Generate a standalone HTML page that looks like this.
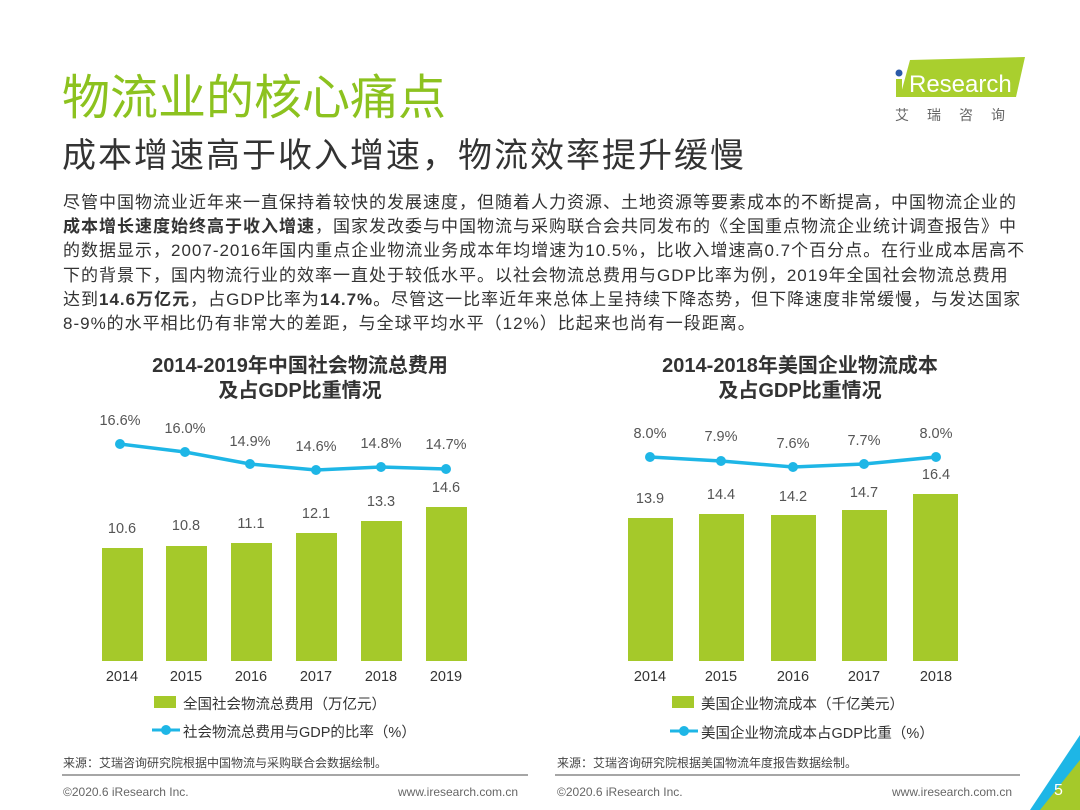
<!DOCTYPE html>
<html><head><meta charset="utf-8">
<style>
body{margin:0;width:1080px;height:810px;background:#fff;position:relative;overflow:hidden;font-family:"Liberation Sans","Noto Sans CJK SC",sans-serif;}
.a{position:absolute;white-space:nowrap}
.t{color:#8cc21f;font-size:48px;left:62px;top:58px}
.st{color:#333;font-size:34px;left:62px;top:128px;letter-spacing:2px}
.p{left:63px;top:191px;font-size:17px;line-height:24.2px;color:#333;white-space:nowrap;letter-spacing:1px}
.ct{font-size:20px;font-weight:bold;color:#333;text-align:center;line-height:25px}
.bar{position:absolute;background:#a5c92a}
.lbl{position:absolute;font-size:14.5px;color:#555;transform:translateX(-50%)}
.yr{position:absolute;font-size:14.5px;color:#333;transform:translateX(-50%);top:669px}
.small{font-size:12px;color:#444}
</style></head><body>
<div class="a t">物流业的核心痛点</div>
<div class="a st">成本增速高于收入增速，物流效率提升缓慢</div>
<svg class="a" style="left:888px;top:55px" width="140" height="70">
<polygon points="22,5 137,2 128,42 12,42" fill="#a9cf2e"/>
<circle cx="11" cy="18" r="3.5" fill="#2a5aa8"/>
<rect x="8" y="24" width="6" height="18" fill="#a9cf2e"/>
<text x="21" y="37" font-family="Liberation Sans" font-size="24" fill="#fff">Research</text>
<text x="7" y="65" font-family="Noto Sans CJK SC" font-size="14" fill="#666" letter-spacing="18">艾瑞咨询</text>
</svg>
<div class="a p">尽管中国物流业近年来一直保持着较快的发展速度，但随着人力资源、土地资源等要素成本的不断提高，中国物流企业的<br><b>成本增长速度始终高于收入增速</b>，国家发改委与中国物流与采购联合会共同发布的《全国重点物流企业统计调查报告》中<br>的数据显示，2007-2016年国内重点企业物流业务成本年均增速为10.5%，比收入增速高0.7个百分点。在行业成本居高不<br>下的背景下，国内物流行业的效率一直处于较低水平。以社会物流总费用与GDP比率为例，2019年全国社会物流总费用<br>达到<b>14.6万亿元</b>，占GDP比率为<b>14.7%</b>。尽管这一比率近年来总体上呈持续下降态势，但下降速度非常缓慢，与发达国家<br>8-9%的水平相比仍有非常大的差距，与全球平均水平（12%）比起来也尚有一段距离。</div>

<div class="a ct" style="left:60px;width:480px;top:354px">2014-2019年中国社会物流总费用<br>及占GDP比重情况</div>
<div class="a ct" style="left:560px;width:480px;top:354px">2014-2018年美国企业物流成本<br>及占GDP比重情况</div>

<div class="bar" style="left:102px;width:41px;top:548px;height:113px"></div>
<div class="bar" style="left:166px;width:41px;top:546px;height:115px"></div>
<div class="bar" style="left:231px;width:41px;top:543px;height:118px"></div>
<div class="bar" style="left:296px;width:41px;top:533px;height:128px"></div>
<div class="bar" style="left:361px;width:41px;top:521px;height:140px"></div>
<div class="bar" style="left:426px;width:41px;top:507px;height:154px"></div>
<div class="lbl" style="left:122px;top:521px">10.6</div>
<div class="lbl" style="left:186px;top:518px">10.8</div>
<div class="lbl" style="left:251px;top:516px">11.1</div>
<div class="lbl" style="left:316px;top:506px">12.1</div>
<div class="lbl" style="left:381px;top:494px">13.3</div>
<div class="lbl" style="left:446px;top:480px">14.6</div>
<div class="yr" style="left:122px">2014</div><div class="yr" style="left:186px">2015</div><div class="yr" style="left:251px">2016</div><div class="yr" style="left:316px">2017</div><div class="yr" style="left:381px">2018</div><div class="yr" style="left:446px">2019</div>

<div class="bar" style="left:628px;width:45px;top:518px;height:143px"></div>
<div class="bar" style="left:699px;width:45px;top:514px;height:147px"></div>
<div class="bar" style="left:771px;width:45px;top:515px;height:146px"></div>
<div class="bar" style="left:842px;width:45px;top:510px;height:151px"></div>
<div class="bar" style="left:913px;width:45px;top:494px;height:167px"></div>
<div class="lbl" style="left:650px;top:491px">13.9</div>
<div class="lbl" style="left:721px;top:487px">14.4</div>
<div class="lbl" style="left:793px;top:489px">14.2</div>
<div class="lbl" style="left:864px;top:485px">14.7</div>
<div class="lbl" style="left:936px;top:467px">16.4</div>
<div class="yr" style="left:650px">2014</div><div class="yr" style="left:721px">2015</div><div class="yr" style="left:793px">2016</div><div class="yr" style="left:864px">2017</div><div class="yr" style="left:936px">2018</div>

<svg class="a" style="left:0;top:0" width="1080" height="810">
<g stroke="#1eb6e6" stroke-width="3.5" fill="none">
<polyline points="120,444 185,452 250,464 316,470 381,467 446,469"/>
<polyline points="650,457 721,461 793,467 864,464 936,457"/>
</g>
<g fill="#1eb6e6">
<circle cx="120" cy="444" r="5"/><circle cx="185" cy="452" r="5"/><circle cx="250" cy="464" r="5"/><circle cx="316" cy="470" r="5"/><circle cx="381" cy="467" r="5"/><circle cx="446" cy="469" r="5"/>
<circle cx="650" cy="457" r="5"/><circle cx="721" cy="461" r="5"/><circle cx="793" cy="467" r="5"/><circle cx="864" cy="464" r="5"/><circle cx="936" cy="457" r="5"/>
</g>
<rect x="154" y="696" width="22" height="12" fill="#a5c92a"/>
<line x1="152" y1="730" x2="180" y2="730" stroke="#1eb6e6" stroke-width="3"/><circle cx="166" cy="730" r="5" fill="#1eb6e6"/>
<rect x="672" y="696" width="22" height="12" fill="#a5c92a"/>
<line x1="670" y1="731" x2="698" y2="731" stroke="#1eb6e6" stroke-width="3"/><circle cx="684" cy="731" r="5" fill="#1eb6e6"/>
<line x1="62" y1="775" x2="528" y2="775" stroke="#888" stroke-width="1.5"/>
<line x1="555" y1="775" x2="1020" y2="775" stroke="#888" stroke-width="1.5"/>
<polygon points="1080,735 1080,810 1030,810" fill="#1eb6e6"/>
<polygon points="1080,760 1080,810 1040,810" fill="#a5c92a"/>
</svg>
<div class="lbl" style="left:120px;top:413px">16.6%</div>
<div class="lbl" style="left:185px;top:421px">16.0%</div>
<div class="lbl" style="left:250px;top:434px">14.9%</div>
<div class="lbl" style="left:316px;top:439px">14.6%</div>
<div class="lbl" style="left:381px;top:436px">14.8%</div>
<div class="lbl" style="left:446px;top:437px">14.7%</div>
<div class="lbl" style="left:650px;top:426px">8.0%</div>
<div class="lbl" style="left:721px;top:429px">7.9%</div>
<div class="lbl" style="left:793px;top:436px">7.6%</div>
<div class="lbl" style="left:864px;top:433px">7.7%</div>
<div class="lbl" style="left:936px;top:426px">8.0%</div>

<div class="a" style="left:183px;top:693px;font-size:14.5px;color:#333">全国社会物流总费用（万亿元）</div>
<div class="a" style="left:183px;top:721px;font-size:14.5px;color:#333">社会物流总费用与GDP的比率（%）</div>
<div class="a" style="left:701px;top:693px;font-size:14.5px;color:#333">美国企业物流成本（千亿美元）</div>
<div class="a" style="left:701px;top:722px;font-size:14.5px;color:#333">美国企业物流成本占GDP比重（%）</div>

<div class="a small" style="left:63px;top:754px">来源：艾瑞咨询研究院根据中国物流与采购联合会数据绘制。</div>
<div class="a small" style="left:557px;top:754px">来源：艾瑞咨询研究院根据美国物流年度报告数据绘制。</div>
<div class="a small" style="left:63px;top:785px;color:#666">©2020.6 iResearch Inc.</div>
<div class="a small" style="left:398px;top:785px;color:#666">www.iresearch.com.cn</div>
<div class="a small" style="left:557px;top:785px;color:#666">©2020.6 iResearch Inc.</div>
<div class="a small" style="left:892px;top:785px;color:#666">www.iresearch.com.cn</div>
<div class="a" style="left:1054px;top:782px;font-size:16px;color:#fff">5</div>
</body></html>
